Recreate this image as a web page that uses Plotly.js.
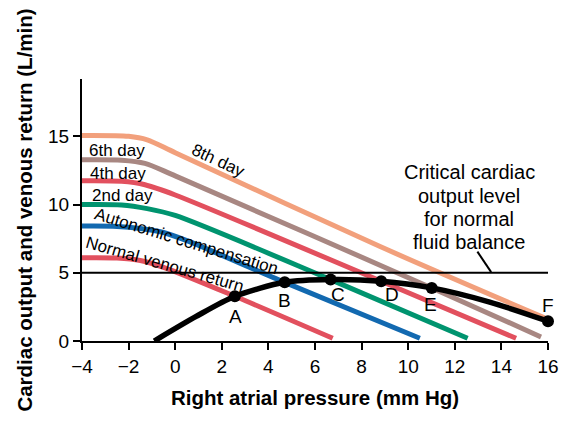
<!DOCTYPE html>
<html>
<head>
<meta charset="utf-8">
<script src="https://cdn.plot.ly/plotly-3.0.1.min.js"></script>
<style>html,body{margin:0;padding:0;background:#fff;}#chart{width:562px;height:429px;}</style>
</head>
<body>
<div id="chart"></div>
<script>
// Venous return curves (x = right atrial pressure, y = L/min)
const normalX = [-4, -2.5, -1.5, -0.5, 2.56, 6.76];
const normalY = [6.1, 6.08, 5.9, 5.4, 3.28, 0.2];
const autoX = [-4, -2.5, -1.5, -0.5, 0.5, 4.7, 10.5];
const autoY = [8.42, 8.4, 8.25, 7.95, 7.35, 4.3, 0.2];
const day2X = [-4, -2.3, -1.2, 0, 6.67, 12.55];
const day2Y = [10.0, 9.97, 9.7, 9.2, 4.5, 0.2];
const day4X = [-4, -2.3, -1.3, 0, 8.84, 14.63];
const day4Y = [11.74, 11.7, 11.45, 10.7, 4.38, 0.2];
const day6X = [-4, -2.3, -1.3, 0, 11.01, 15.7];
const day6Y = [13.28, 13.25, 13.02, 12.1, 3.89, 0.3];
const day8X = [-4, -2, -1.2, 0, 8.77, 15.85];
const day8Y = [15.06, 15.0, 14.74, 13.8, 6.94, 1.7];
// Cardiac output curve
const coX = [-0.9, 0.9, 2.56, 4.7, 6.67, 8.84, 11.01, 13.5, 16];
const coY = [0, 1.8, 3.28, 4.3, 4.5, 4.38, 3.89, 2.85, 1.45];
// Equilibrium points
const ptLabels = ['A', 'B', 'C', 'D', 'E', 'F'];
const ptX = [2.56, 4.7, 6.67, 8.84, 11.01, 16];
const ptY = [3.28, 4.3, 4.5, 4.38, 3.89, 1.45];
// Critical cardiac output level
const critX = [-4, 16];
const critY = [5, 5];
const xTicks = [-4, -2, 0, 2, 4, 6, 8, 10, 12, 14, 16];
const yTicks = [0, 5, 10, 15];

const FONT = 'Liberation Sans, Arial, Helvetica, sans-serif';
function curve(x, y, color) {
  return {x: x, y: y, type: 'scatter', mode: 'lines', hoverinfo: 'skip',
    line: {color: color, width: 5, shape: 'spline', smoothing: 0.8}, cliponaxis: false};
}
const traces = [
  curve(normalX, normalY, '#E2505E'),
  curve(autoX, autoY, '#1269B0'),
  curve(day2X, day2Y, '#00946F'),
  curve(day4X, day4Y, '#E2505E'),
  curve(day6X, day6Y, '#A88782'),
  curve(day8X, day8Y, '#F2A07C'),
  {x: critX, y: critY, type: 'scatter', mode: 'lines', line: {color: '#000', width: 2}, hoverinfo: 'skip'},
  {x: coX, y: coY, type: 'scatter', mode: 'lines', line: {color: '#000', width: 5.5, shape: 'spline', smoothing: 0.8}, hoverinfo: 'skip', cliponaxis: false},
  {x: ptX, y: ptY, type: 'scatter', mode: 'markers', marker: {color: '#000', size: 12}, cliponaxis: false, hoverinfo: 'skip'}
];

const ptOffX = [0.01, 0.01, 0.3, 0.48, -0.04, -0.01];
const ptOffY = [-1.47, -1.32, -1.1, -0.98, -1.22, 1.17];
const annotations = [];
ptLabels.forEach((t, i) => annotations.push({x: ptX[i] + ptOffX[i], y: ptY[i] + ptOffY[i], text: t, showarrow: false,
  font: {family: FONT, size: 19, color: '#000'}, xanchor: 'center', yanchor: 'middle'}));
const lab = (text, x, y, angle) => ({x: x, y: y, text: text, showarrow: false, textangle: angle,
  font: {family: FONT, size: 17, color: '#000'}, xanchor: 'center', yanchor: 'middle'});
annotations.push(lab('6th day', -2.5, 13.94, 0));
annotations.push(lab('4th day', -2.46, 12.3, 0));
annotations.push(lab('2nd day', -2.28, 10.67, 0));
annotations.push(lab('Autonomic compensation', 0.49, 7.3, 17));
annotations.push(lab('Normal venous return', -0.44, 5.6, 16));
annotations.push(lab('8th day', 1.84, 13.2, 25));
const critLines = ['Critical cardiac', 'output level', 'for normal', 'fluid balance'];
const critYs = [12.4, 10.65, 8.95, 7.25];
critLines.forEach((t, i) => annotations.push({x: 12.63, y: critYs[i], text: t, showarrow: false,
  font: {family: FONT, size: 20, color: '#000'}, xanchor: 'center', yanchor: 'middle'}));

const layout = {
  width: 562, height: 429,
  margin: {l: 82, r: 14, t: 79, b: 88, pad: 0},
  paper_bgcolor: '#fff', plot_bgcolor: '#fff',
  showlegend: false,
  font: {family: FONT, color: '#000'},
  xaxis: {range: [-4, 16], tickvals: xTicks, ticks: 'outside', ticklen: 7, tickwidth: 2, tickcolor: '#000',
    showline: true, linecolor: '#000', linewidth: 2, showgrid: false, zeroline: false,
    tickfont: {family: FONT, size: 19, color: '#000'},
    title: {text: '<b>Right atrial pressure (mm Hg)</b>', font: {family: FONT, size: 20.5, color: '#000'}, standoff: 15}},
  yaxis: {range: [0, 19.2], tickvals: yTicks, ticks: 'outside', ticklen: 7, tickwidth: 2, tickcolor: '#000',
    showline: true, linecolor: '#000', linewidth: 2, showgrid: false, zeroline: false,
    tickfont: {family: FONT, size: 19, color: '#000'},
    title: {text: '<b>Cardiac output and venous return (L/min)</b>', font: {family: FONT, size: 20.5, color: '#000'}, standoff: 10}},
  shapes: [{type: 'line', xref: 'x', yref: 'y', x0: 12.97, y0: 6.55, x1: 13.56, y1: 5.05, line: {color: '#000', width: 2}}],
  annotations: annotations
};
Plotly.newPlot('chart', traces, layout, {displayModeBar: false, staticPlot: true});
</script>
</body>
</html>
